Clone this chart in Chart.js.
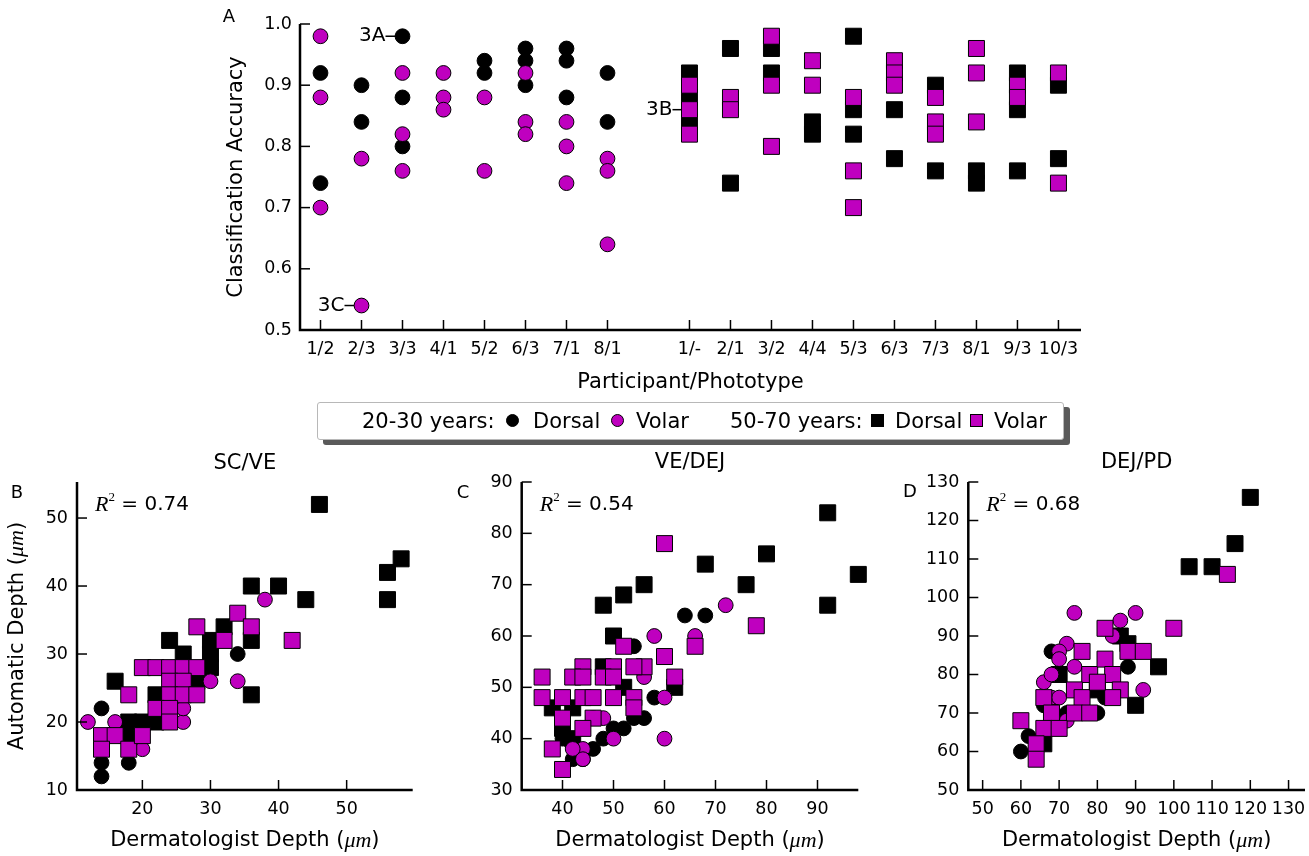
<!DOCTYPE html>
<html><head><meta charset="utf-8">
<script src="https://cdn.jsdelivr.net/npm/chart.js@4.4.1/dist/chart.umd.min.js"></script>
<style>
html,body{margin:0;padding:0;background:#fff;overflow:hidden;width:1309px;height:856px;position:relative;}
canvas{position:absolute;}
#legend{position:absolute;left:317px;top:402px;width:745px;height:36px;border:1px solid #b8b8b8;border-radius:3px;background:#fff;box-shadow:6px 5px 0 #5a5a5a;font:21px "DejaVu Sans";color:#000;}
#legend span{position:absolute;top:0;line-height:36px;white-space:nowrap;}
#legend i{position:absolute;top:11px;width:13px;height:13px;box-sizing:border-box;border:1px solid #000;}
</style></head><body>
<canvas id="cA" width="1309" height="400" style="left:0;top:0"></canvas>
<canvas id="cB" width="440" height="416" style="left:0;top:440px"></canvas>
<canvas id="cC" width="440" height="416" style="left:440px;top:440px"></canvas>
<canvas id="cD" width="440" height="416" style="left:880px;top:440px"></canvas>
<div id="legend">
  <span style="left:44px">20-30 years:</span>
  <i style="left:188px;background:#000;border-radius:50%"></i>
  <span style="left:215px">Dorsal</span>
  <i style="left:293px;background:#BF00BF;border-radius:50%"></i>
  <span style="left:318px">Volar</span>
  <span style="left:412px">50-70 years:</span>
  <i style="left:553px;background:#000"></i>
  <span style="left:577px">Dorsal</span>
  <i style="left:652px;background:#BF00BF"></i>
  <span style="left:676px">Volar</span>
</div>
<script>
// ---------- Panel A: classification accuracy per participant ----------
const youngLabels = ['1/2','2/3','3/3','4/1','5/2','6/3','7/1','8/1'];
const oldLabels   = ['1/-','2/1','3/2','4/4','5/3','6/3','7/3','8/1','9/3','10/3'];
const accTicks = [0.5,0.6,0.7,0.8,0.9,1.0];

const youngDorsalAcc = [[0.92,0.74],[0.90,0.84],[0.98,0.88,0.80],[],[0.94,0.92],[0.96,0.94,0.90],[0.96,0.94,0.88],[0.92,0.84]];
const youngVolarAcc  = [[0.98,0.88,0.70],[0.78,0.54],[0.92,0.82,0.76],[0.92,0.88,0.86],[0.88,0.76],[0.92,0.84,0.82],[0.84,0.80,0.74],[0.78,0.76,0.64]];
const oldDorsalAcc   = [[0.92,0.88,0.84],[0.96,0.74],[0.96,0.92],[0.84,0.82],[0.98,0.86,0.82],[0.86,0.78],[0.90,0.76],[0.76,0.74],[0.92,0.86,0.76],[0.90,0.78]];
const oldVolarAcc    = [[0.90,0.86,0.82],[0.88,0.86],[0.98,0.90,0.80],[0.94,0.90],[0.88,0.76,0.70],[0.94,0.92,0.90],[0.88,0.84,0.82],[0.96,0.92,0.84],[0.90,0.88],[0.92,0.74]];

// ---------- Panel B: SC/VE ----------
const youngDorsalB = [[34,30],[14,22],[14,14],[14,12],[18,14],[18,18],[30,28],[20,20],[22,20],[24,26],[26,26]];
const oldDorsalB   = [[46,52],[58,44],[56,42],[56,38],[36,40],[40,40],[44,38],[36,24],[36,32],[32,34],[24,32],[26,30],[30,32],[16,26],[22,24],[28,26],[30,28],[30,30],[18,20],[20,20],[22,20]];
const youngVolarB  = [[38,38],[34,26],[30,26],[12,20],[16,20],[20,16],[26,20],[26,22],[26,26]];
const oldVolarB    = [[34,36],[36,34],[32,32],[28,34],[42,32],[20,28],[22,28],[24,28],[26,28],[28,28],[24,26],[26,26],[24,24],[26,24],[28,24],[22,22],[24,22],[24,20],[18,24],[14,18],[16,18],[14,16],[18,16],[20,18]];
const xTicksB = [20,30,40,50];
const yTicksB = [10,20,30,40,50];

// ---------- Panel C: VE/DEJ ----------
const youngDorsalC = [[64,64],[68,64],[54,58],[58,48],[56,44],[54,44],[52,42],[50,42],[48,40],[46,38],[42,36],[44,36],[40,42],[46,44],[40,40]];
const oldDorsalC   = [[92,84],[98,72],[92,66],[80,76],[76,70],[68,74],[56,70],[52,68],[48,66],[50,60],[62,50],[38,46],[40,42],[42,40],[48,54],[52,50],[42,46]];
const youngVolarC  = [[72,66],[58,60],[66,60],[60,48],[60,40],[56,52],[50,40],[48,44],[44,38],[44,36],[42,38],[46,44]];
const oldVolarC    = [[60,78],[78,62],[66,58],[60,56],[52,58],[62,52],[56,54],[54,54],[50,54],[44,54],[42,52],[44,52],[48,52],[50,52],[36,52],[36,48],[40,48],[44,48],[46,48],[50,48],[54,48],[54,46],[40,44],[46,44],[44,42],[38,38],[40,34]];
const xTicksC = [40,50,60,70,80,90];
const yTicksC = [30,40,50,60,70,80,90];

// ---------- Panel D: DEJ/PD ----------
const youngDorsalD = [[60,60],[62,64],[68,86],[88,82],[80,70],[82,74],[66,72],[72,70]];
const oldDorsalD   = [[120,126],[116,114],[104,108],[110,108],[96,82],[90,72],[88,88],[86,90],[70,80],[66,62],[68,72],[80,76]];
const youngVolarD  = [[74,96],[90,96],[86,94],[84,90],[92,76],[72,88],[70,86],[70,84],[74,82],[66,78],[68,80],[68,74],[70,74],[72,68]];
const oldVolarD    = [[114,106],[100,92],[82,92],[88,86],[92,86],[76,86],[78,80],[82,84],[84,80],[86,76],[84,74],[74,76],[76,74],[74,70],[78,70],[80,78],[66,74],[60,68],[68,70],[66,66],[70,66],[64,62],[64,58]];
const xTicksD = [50,60,70,80,90,100,110,120,130];
const yTicksD = [50,60,70,80,90,100,110,120,130];

const r2Values = ['0.74','0.54','0.68'];

// ---------- helpers ----------
const MAG = '#BF00BF';
const OLD_OFFSET = 9;
const FONT = '"DejaVu Sans"';
const T = (t, s) => ({t, f: `${s}px ${FONT}`});
const MU = {t: 'μm', f: 'italic 22px "Liberation Serif"'};

function catPoints(groups, offset) {
  const pts = [];
  groups.forEach((vals, i) => vals.forEach(v => pts.push({x: offset + i, y: v})));
  return pts;
}
const xy = arr => arr.map(([x, y]) => ({x, y}));

function ds(label, data, style, color, order) {
  return {label, data, pointStyle: style, pointRadius: style === 'circle' ? 7.4 : 11.3,
    pointBackgroundColor: color, pointBorderColor: '#000', pointBorderWidth: 1,
    showLine: false, order, clip: false};
}

function drawRich(ctx, parts, x, y, align, rot) {
  ctx.save();
  ctx.translate(x, y);
  if (rot) ctx.rotate(rot * Math.PI / 180);
  ctx.textBaseline = 'middle';
  ctx.textAlign = 'left';
  ctx.fillStyle = '#000';
  let w = 0;
  parts.forEach(p => { ctx.font = p.f; p.w = ctx.measureText(p.t).width; w += p.w; });
  let cx = align === 'center' ? -w / 2 : align === 'right' ? -w : 0;
  parts.forEach(p => { ctx.font = p.f; ctx.fillText(p.t, cx, p.dy || 0); cx += p.w; });
  ctx.restore();
}

const decorCfg = {
  cA: {
    texts: [
      {parts: [T('Classification Accuracy', 21)], x: 237, y: 'cy', rot: -90, align: 'center'},
      {parts: [T('Participant/Phototype', 21)], x: 'cx', y: 383, align: 'center'},
      {parts: [T('A', 18)], x: 229, y: 17, align: 'center'}
    ],
    notes: [
      {x: 2, y: youngDorsalAcc[2][0], text: '3A'},
      {x: 1, y: youngVolarAcc[1][1], text: '3C'},
      {x: OLD_OFFSET, y: oldVolarAcc[0][1], text: '3B'}
    ]
  },
  cB: {texts: [
    {parts: [T('SC/VE', 21)], x: 'cx', y: 24, align: 'center'},
    {parts: [T('B', 18)], x: 17, y: 53, align: 'center'},
    {parts: [T('Automatic Depth (', 21), MU, T(')', 21)], x: 17.5, y: 'cy', rot: -90, align: 'center'},
    {parts: [T('Dermatologist Depth (', 21), MU, T(')', 21)], x: 'cx', y: 401, align: 'center'}
  ], r2: r2Values[0]},
  cC: {texts: [
    {parts: [T('VE/DEJ', 21)], x: 'cx', y: 23, align: 'center'},
    {parts: [T('C', 18)], x: 23, y: 53, align: 'center'},
    {parts: [T('Dermatologist Depth (', 21), MU, T(')', 21)], x: 'cx', y: 401, align: 'center'}
  ], r2: r2Values[1]},
  cD: {texts: [
    {parts: [T('DEJ/PD', 21)], x: 'cx', y: 23, align: 'center'},
    {parts: [T('D', 18)], x: 30, y: 52, align: 'center'},
    {parts: [T('Dermatologist Depth (', 21), MU, T(')', 21)], x: 'cx', y: 401, align: 'center'}
  ], r2: r2Values[2]}
};

const decor = {
  id: 'decor',
  beforeDatasetsDraw(chart) {
    const cfg = decorCfg[chart.canvas.id];
    if (!cfg || !cfg.notes) return;
    const {ctx, scales: {x, y}} = chart;
    ctx.save();
    ctx.strokeStyle = '#000'; ctx.lineWidth = 1.5;
    cfg.notes.forEach(n => {
      const px = x.getPixelForValue(n.x), py = y.getPixelForValue(n.y);
      ctx.beginPath(); ctx.moveTo(px - 17, py); ctx.lineTo(px, py); ctx.stroke();
      drawRich(ctx, [T(n.text, 20)], px - 17, py, 'right');
    });
    ctx.restore();
  },
  afterDatasetsDraw(chart) {
    const {ctx, chartArea: a, scales: {x, y}} = chart;
    ctx.save();
    ctx.strokeStyle = '#000';
    ctx.lineWidth = 1.5;
    const tl = 10;
    x.ticks.forEach(t => {
      const px = x.getPixelForValue(t.value);
      ctx.beginPath(); ctx.moveTo(px, a.bottom); ctx.lineTo(px, a.bottom - tl); ctx.stroke();
    });
    y.ticks.forEach(t => {
      const py = y.getPixelForValue(t.value);
      ctx.beginPath(); ctx.moveTo(a.left, py); ctx.lineTo(a.left + tl, py); ctx.stroke();
    });
    ctx.lineWidth = 2.5;
    ctx.beginPath();
    ctx.moveTo(a.left, a.top); ctx.lineTo(a.left, a.bottom); ctx.lineTo(a.right, a.bottom);
    ctx.stroke();
    ctx.restore();
  },
  afterDraw(chart) {
    const cfg = decorCfg[chart.canvas.id];
    if (!cfg) return;
    const {ctx, chartArea: a} = chart;
    const cx = (a.left + a.right) / 2, cy = (a.top + a.bottom) / 2;
    cfg.texts.forEach(t => {
      drawRich(ctx, t.parts, t.x === 'cx' ? cx : t.x, t.y === 'cy' ? cy : t.y, t.align, t.rot);
    });
    if (cfg.r2) {
      drawRich(ctx, [
        {t: 'R', f: 'italic 22px "Liberation Serif"'},
        {t: '2', f: '13px "Liberation Serif"', dy: -7},
        T(' = ' + cfg.r2, 20)
      ], a.left + 18, a.top + 23, 'left');
    }
  }
};

function axisCommon(ticksArr, fit, isX, padding, cb) {
  return {
    type: 'linear',
    grid: {display: false, drawTicks: false},
    border: {display: false},
    afterBuildTicks: s => { s.ticks = ticksArr.map(v => ({value: v})); },
    afterFit: s => { if (isX) s.height = fit; else s.width = fit; },
    ticks: {font: {family: 'DejaVu Sans', size: 17.5}, color: '#000', padding, autoSkip: false, maxRotation: 0, minRotation: 0,
      callback: cb || (v => String(v))}
  };
}

function makeChart(id, datasets, xs, ys, padding) {
  return new Chart(document.getElementById(id), {
    type: 'scatter',
    data: {datasets},
    options: {
      responsive: false, animation: false, events: [],
      layout: {padding},
      plugins: {legend: {display: false}, tooltip: {enabled: false}},
      scales: {x: xs, y: ys}
    },
    plugins: [decor]
  });
}

// Panel A
const catTickValues = youngLabels.map((_, i) => i).concat(oldLabels.map((_, i) => OLD_OFFSET + i));
const catLabel = v => v < OLD_OFFSET ? youngLabels[v] : oldLabels[v - OLD_OFFSET];
makeChart('cA', [
  ds('20-30 Volar', catPoints(youngVolarAcc, 0), 'circle', MAG, 1),
  ds('20-30 Dorsal', catPoints(youngDorsalAcc, 0), 'circle', '#000', 2),
  ds('50-70 Volar', catPoints(oldVolarAcc, OLD_OFFSET), 'rect', MAG, 1),
  ds('50-70 Dorsal', catPoints(oldDorsalAcc, OLD_OFFSET), 'rect', '#000', 2)
],
  Object.assign(axisCommon(catTickValues, 70, true, 9, catLabel), {min: -0.5, max: 18.55}),
  Object.assign(axisCommon(accTicks, 90, false, 8, v => v.toFixed(1)), {min: 0.5, max: 1.0}),
  {left: 210, right: 228, top: 24, bottom: 0});

function depthDatasets(yd, od, yv, ov) {
  return [
    ds('50-70 Volar', xy(ov), 'rect', MAG, 1),
    ds('20-30 Volar', xy(yv), 'circle', MAG, 2),
    ds('50-70 Dorsal', xy(od), 'rect', '#000', 3),
    ds('20-30 Dorsal', xy(yd), 'circle', '#000', 4)
  ];
}

makeChart('cB', depthDatasets(youngDorsalB, oldDorsalB, youngVolarB, oldVolarB),
  Object.assign(axisCommon(xTicksB, 66, true, 8.5), {min: 10.4, max: 59.7}),
  Object.assign(axisCommon(yTicksB, 77, false, 9), {min: 10, max: 55.3}),
  {left: 0, right: 27.3, top: 42, bottom: 0});

makeChart('cC', depthDatasets(youngDorsalC, oldDorsalC, youngVolarC, oldVolarC),
  Object.assign(axisCommon(xTicksC, 66, true, 8.5), {min: 32, max: 98}),
  Object.assign(axisCommon(yTicksC, 81.7, false, 9), {min: 30, max: 90}),
  {left: 0, right: 21.7, top: 42, bottom: 0});

makeChart('cD', depthDatasets(youngDorsalD, oldDorsalD, youngVolarD, oldVolarD),
  Object.assign(axisCommon(xTicksD, 66, true, 8.5), {min: 46.25, max: 134.3}),
  Object.assign(axisCommon(yTicksD, 88.3, false, 9), {min: 50, max: 130}),
  {left: 0, right: 15, top: 42, bottom: 0});
</script>
</body></html>
